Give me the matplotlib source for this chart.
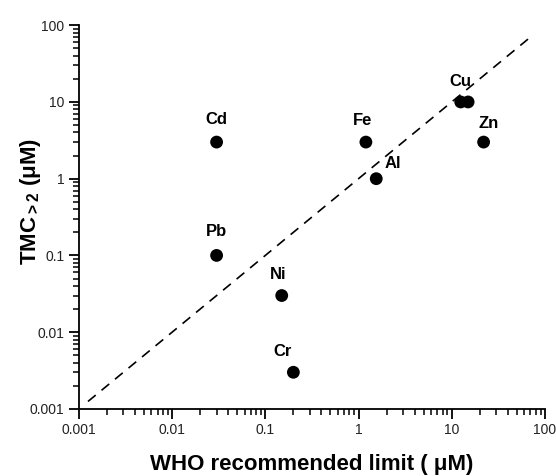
import matplotlib
matplotlib.use("Agg")
import matplotlib.pyplot as plt
from matplotlib.ticker import LogLocator, FuncFormatter, NullFormatter

plt.rcParams["font.family"] = ["Liberation Sans", "DejaVu Sans"]
plt.rcParams["mathtext.fontset"] = "custom"
plt.rcParams["mathtext.rm"] = "Liberation Sans"
plt.rcParams["mathtext.bf"] = "Liberation Sans:bold"

# data
metals = ["Cd", "Fe", "Cu", "Cu2", "Zn", "Al", "Pb", "Ni", "Cr"]
who_limit = [0.03, 1.2, 12.5, 15.0, 22.0, 1.55, 0.03, 0.15, 0.2]
tmc = [3.0, 3.0, 10.0, 10.0, 3.0, 1.0, 0.1, 0.03, 0.003]
line_x = [0.00125, 75.0]

# label offsets in pixels (dx, dy) relative to the marker
label_offsets = {
    "Cd": (0, 23), "Fe": (-3, 22), "Cu": (0, 20), "Zn": (5, 19),
    "Al": (17, 15), "Pb": (0, 24), "Ni": (-4, 21), "Cr": (-11, 21),
}

fig = plt.figure(figsize=(5.56, 4.76), dpi=100)
ax = fig.add_axes([0.142, 0.141, 0.838, 0.806])

ax.plot(line_x, line_x, color="black", linestyle=(0, (6, 4.5)), linewidth=1.2)
ax.scatter(who_limit, tmc, s=85, color="black", zorder=3, edgecolors="none")

for name, x, y in zip(metals, who_limit, tmc):
    if name not in label_offsets:
        continue
    dx, dy = label_offsets[name]
    ax.annotate(name, (x, y), xytext=(dx * 0.72, dy * 0.72), textcoords="offset points",
                ha="center", va="center", fontsize=12, fontweight="bold")

ax.set_xscale("log")
ax.set_yscale("log")
ax.set_xlim(0.001, 100)
ax.set_ylim(0.001, 100)

fmt = FuncFormatter(lambda v, p: f"{v:g}")
for axis in (ax.xaxis, ax.yaxis):
    axis.set_major_locator(LogLocator(base=10, numticks=10))
    axis.set_minor_locator(LogLocator(base=10, subs=range(2, 10), numticks=10))
    axis.set_major_formatter(fmt)
    axis.set_minor_formatter(NullFormatter())

ax.tick_params(which="major", direction="out", length=7, width=1.3, labelsize=10,
               labelcolor="#222222")
ax.tick_params(which="minor", direction="out", length=4, width=1.1)
ax.spines["top"].set_visible(False)
ax.spines["right"].set_visible(False)
ax.spines["left"].set_linewidth(1.3)
ax.spines["bottom"].set_linewidth(1.3)

ax.set_xlabel("WHO recommended limit ( \u03bcM)", fontsize=16, fontweight="bold", labelpad=12)
ax.set_ylabel("TMC$_{\\mathbf{>2}}$ (\u03bcM)", fontsize=16, fontweight="bold")
ax.yaxis.set_label_coords(-0.078, 0.54)

fig.savefig("out.png", dpi=100)
